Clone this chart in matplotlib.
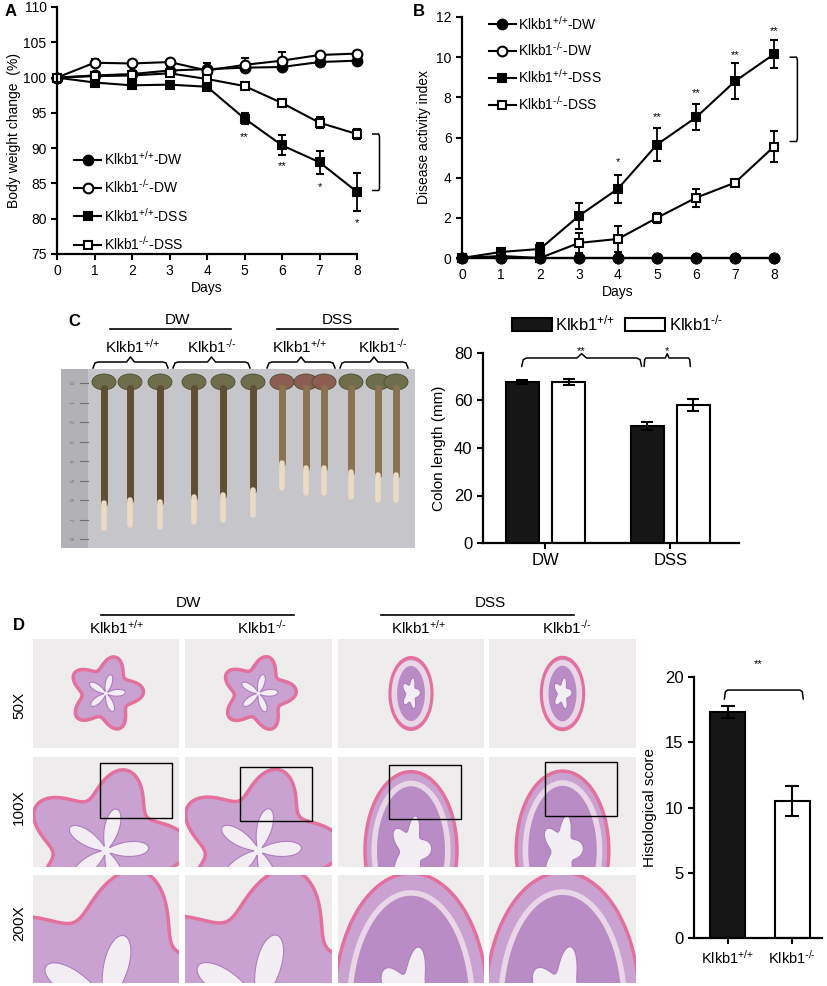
import numpy as np
import matplotlib.pyplot as plt
from matplotlib.lines import Line2D
from matplotlib.patches import Rectangle, Ellipse, Polygon

plt.rcParams['font.family'] = ['Liberation Sans', 'DejaVu Sans']
plt.rcParams['mathtext.fontset'] = 'custom'
plt.rcParams['mathtext.rm'] = 'Liberation Sans'
plt.rcParams['mathtext.default'] = 'regular'
NARROW = ['Liberation Sans Narrow', 'Liberation Sans', 'DejaVu Sans']

WT = r'Klkb1$^{\text{+/+}}$'
KO = r'Klkb1$^{\text{-/-}}$'

# ---- data ----
days = [0, 1, 2, 3, 4, 5, 6, 7, 8]
group_labels = [WT + '-DW', KO + '-DW', WT + '-DSS', KO + '-DSS']

# A: body weight change (%)
bw_wt_dw = [100, 100.3, 100.5, 101.0, 101.2, 101.4, 101.5, 102.2, 102.4]
bw_wt_dw_err = [0, 0.4, 0.5, 0.5, 0.8, 0.5, 0.4, 0.3, 0.3]
bw_ko_dw = [100, 102.1, 102.0, 102.2, 101.0, 101.8, 102.4, 103.2, 103.4]
bw_ko_dw_err = [0, 0.5, 0.3, 0.4, 0.5, 1.0, 1.2, 0.3, 0.3]
bw_wt_dss = [100, 99.3, 98.9, 99.0, 98.7, 94.2, 90.4, 88.0, 83.8]
bw_wt_dss_err = [0, 0.3, 0.3, 0.3, 0.3, 0.8, 1.4, 1.6, 2.7]
bw_ko_dss = [100, 100.2, 100.3, 100.6, 99.8, 98.8, 96.4, 93.6, 92.0]
bw_ko_dss_err = [0, 0.3, 0.3, 0.4, 0.3, 0.3, 0.4, 0.8, 0.7]
bw_stars = [(5, 91.6, '**'), (6, 87.4, '**'), (7, 84.5, '*'), (8, 79.4, '*')]

# B: disease activity index
dai_wt_dw = [0, 0, 0, 0, 0, 0, 0, 0, 0]
dai_ko_dw = [0, 0, 0, 0, 0, 0, 0, 0, 0]
dai_wt_dss = [0, 0.3, 0.45, 2.1, 3.45, 5.65, 7.0, 8.8, 10.15]
dai_wt_dss_err = [0, 0.15, 0.3, 0.65, 0.7, 0.8, 0.65, 0.9, 0.7]
dai_ko_dss = [0, 0.1, 0.0, 0.75, 0.95, 2.0, 3.0, 3.75, 5.55]
dai_ko_dss_err = [0, 0.1, 0.1, 0.5, 0.65, 0.25, 0.45, 0.1, 0.75]
dai_stars = [(4, 4.8, '*'), (5, 7.0, '**'), (6, 8.2, '**'), (7, 10.1, '**'), (8, 11.3, '**')]

# C: colon length (mm)
treatments = ['DW', 'DSS']
colon_wt = [67.7, 49.3]
colon_wt_err = [0.8, 1.7]
colon_ko = [67.7, 58.0]
colon_ko_err = [1.3, 2.5]

# D: histological score
genotypes = [WT, KO]
histo_score = [17.3, 10.5]
histo_err = [0.45, 1.15]

W, H = 827, 986
fig = plt.figure(figsize=(W / 100, H / 100), dpi=100)


def box(l, t, r, b):
    return [l / W, 1 - b / H, (r - l) / W, (b - t) / H]


def style(ax, size=10, family=None):
    for s in ['top', 'right']:
        ax.spines[s].set_visible(False)
    for s in ['left', 'bottom']:
        ax.spines[s].set_linewidth(1.6)
    ax.tick_params(width=1.5, length=4, labelsize=size)
    ax.set_facecolor('none')
    if family:
        for lab in ax.get_xticklabels() + ax.get_yticklabels():
            lab.set_family(family)


def brace(ax, x0, x1, y, h, peak=True, lw=1.1):
    xc = (x0 + x1) / 2
    dx = (x1 - x0) * 0.04
    pk = h * 0.5 if peak else 0
    xs = [x0, x0 + dx * 0.3, x0 + dx, xc - dx, xc, xc + dx, x1 - dx, x1 - dx * 0.3, x1]
    ys = [y - h, y - h * 0.2, y, y, y + pk, y, y, y - h * 0.2, y - h]
    ax.plot(xs, ys, color='black', lw=lw, clip_on=False, solid_capstyle='round')


# ---- decoration layer (photos) in pixel coordinates ----
deco = fig.add_axes([0, 0, 1, 1])
deco.set_xlim(0, W)
deco.set_ylim(H, 0)
deco.axis('off')

# panel letters
for letter, x, y in [('A', 5, 12), ('B', 413, 12), ('C', 68, 321), ('D', 13, 625)]:
    deco.text(x, y, letter, fontsize=12, fontweight='bold', va='center', ha='left')

# C photo
deco.add_patch(Rectangle((61, 369), 354, 179, fc='#c6c6ca', ec='none'))
deco.add_patch(Rectangle((61, 369), 27, 179, fc='#b2b2b6', ec='none'))
for k in range(9):
    yy = 383 + k * 19.5
    deco.plot([80, 88], [yy, yy], color='#707074', lw=0.8)
    deco.text(68, yy, str(k), fontsize=4, color='#707074', va='center', rotation=-90)
heads_x = [104, 130, 160, 194, 223, 253, 282, 306, 324, 351, 378, 396]
bottoms_y = [528, 525, 527, 522, 520, 515, 488, 493, 493, 497, 500, 500]
for i, (hx, by) in enumerate(zip(heads_x, bottoms_y)):
    dss = i >= 6
    deco.plot([hx, hx], [388, by - 25], color='#8a7150' if dss else '#5e4e34',
              lw=5, solid_capstyle='round')
    deco.plot([hx, hx], [by - 25, by], color='#eadbc4', lw=4, solid_capstyle='round')
    deco.add_patch(Ellipse((hx, 382), 24, 16, fc='#8c5e52' if (dss and i < 9) else '#6f6e4c',
                           ec='#4a4a30', lw=0.6))

# C labels and braces
deco.plot([110, 231], [329, 329], color='black', lw=1.2)
deco.plot([277, 398], [329, 329], color='black', lw=1.2)
deco.text(177, 320, 'DW', fontsize=11, ha='center', va='center', family=NARROW)
deco.text(337, 320, 'DSS', fontsize=11, ha='center', va='center', family=NARROW)
for x, lab in zip([133, 212, 300, 383], [WT, KO] * 2):
    deco.text(x, 347, lab, fontsize=11, ha='center', va='center', family=NARROW)
for x0, x1 in [(93, 168), (173, 250), (267, 335), (340, 408)]:
    xc = (x0 + x1) / 2
    deco.plot([x0, x0 + 2, x0 + 5, xc - 4, xc, xc + 4, x1 - 5, x1 - 2, x1],
              [368, 363, 362, 362, 357, 362, 362, 363, 368], color='black', lw=1.1)

# D labels
deco.plot([101, 294], [615, 615], color='black', lw=1.2)
deco.plot([381, 574], [615, 615], color='black', lw=1.2)
deco.text(188, 603, 'DW', fontsize=11, ha='center', va='center', family=NARROW)
deco.text(490, 603, 'DSS', fontsize=11, ha='center', va='center', family=NARROW)
for x, lab in zip([117, 262, 419, 567], [WT, KO] * 2):
    deco.text(x, 628, lab, fontsize=11, ha='center', va='center', family=NARROW)
for y, lab in zip([705, 807, 923], ['50X', '100X', '200X']):
    deco.text(19, y, lab, fontsize=11, ha='center', va='center', rotation=90, family=NARROW)

# D histology tiles
cols = [(33, 179), (185, 332), (338, 484), (489, 636)]
rows = [(639, 748), (757, 867), (875, 983)]
theta = np.linspace(0, 2 * np.pi, 200)
for ci, (x0, x1) in enumerate(cols):
    for ri, (y0, y1) in enumerate(rows):
        w, h = x1 - x0, y1 - y0
        cx, cy = (x0 + x1) / 2, (y0 + y1) / 2
        bg = Rectangle((x0, y0), w, h, fc='#eeecec', ec='none')
        deco.add_patch(bg)
        scale = [0.34, 0.75, 1.25][ri]
        if ci < 2:
            rx, ry = 0.62 * w * scale, 0.62 * w * scale
            lobe = 0.22
        else:
            rx, ry = 0.42 * w * scale, 0.72 * w * scale
            lobe = 0.0
        ocx, ocy = cx, cy + h * 0.35 * ri
        r_out = 1 + lobe * np.cos(5 * theta + 0.3)
        outer = np.column_stack([ocx + rx * r_out * np.cos(theta), ocy + ry * r_out * np.sin(theta)])
        p = Polygon(outer, closed=True, fc='#c9a2d2', ec='#e4709e', lw=2.5)
        deco.add_patch(p)
        p.set_clip_path(bg)
        if ci >= 2:
            # thick pale submucosa ring of the inflamed colon
            mid = np.column_stack([ocx + rx * 0.8 * np.cos(theta), ocy + ry * 0.85 * np.sin(theta)])
            m = Polygon(mid, closed=True, fc='#b98cc6', ec='#e9d6e6', lw=4)
            deco.add_patch(m)
            m.set_clip_path(bg)
        r_in = 0.35 + (0.28 if ci < 2 else 0.1) * np.cos(5 * theta + 0.3)
        inner = np.column_stack([ocx + rx * r_in * np.cos(theta), ocy + ry * r_in * np.sin(theta)])
        q = Polygon(inner, closed=True, fc='#f3eef4', ec='#b07cc0', lw=0.8)
        deco.add_patch(q)
        q.set_clip_path(bg)
# inset boxes on the 100X row
for bx0, by0, bx1, by1 in [(100, 763, 172, 818), (240, 767, 312, 821),
                           (389, 765, 461, 819), (545, 762, 617, 816)]:
    deco.add_patch(Rectangle((bx0, by0), bx1 - bx0, by1 - by0, fc='none', ec='black', lw=1.0))

# ---- A: body weight ----
axA = fig.add_axes(box(57, 7, 357, 254))
specs = [
    (bw_wt_dw, bw_wt_dw_err, 'o', 'black', 7),
    (bw_ko_dw, bw_ko_dw_err, 'o', 'white', 7),
    (bw_wt_dss, bw_wt_dss_err, 's', 'black', 6),
    (bw_ko_dss, bw_ko_dss_err, 's', 'white', 6),
]
handles = []
for vals, err, m, fc, ms in specs:
    c = axA.errorbar(days, vals, yerr=err, marker=m, mfc=fc, mec='black', mew=1.5, ms=ms,
                     color='black', lw=1.5, elinewidth=1.3, capsize=3, capthick=1.3)
    for art in c.get_children():
        art.set_clip_on(False)
    handles.append(Line2D([], [], marker=m, mfc=fc, mec='black', mew=1.5, ms=ms, color='black', lw=1.5))
for x, y, s in bw_stars:
    axA.text(x, y, s, ha='center', va='center', fontsize=8)
axA.plot([8.42, 8.58, 8.6, 8.6, 8.58, 8.42], [92, 92, 91.6, 84.3, 84, 84], color='black', lw=1.1, clip_on=False)
axA.set_xlim(0, 8)
axA.set_ylim(75, 110)
axA.set_xticks(days)
axA.set_yticks(range(75, 111, 5))
axA.set_xlabel('Days', fontsize=10, labelpad=2)
axA.set_ylabel('Body weight change  (%)', fontsize=10, labelpad=2)
style(axA)
axA.legend(handles, group_labels, loc='upper left', bbox_to_anchor=(0.035, 0.45), frameon=False,
           fontsize=10, handlelength=1.9, handletextpad=0.25, labelspacing=0.75, borderpad=0)

# ---- B: DAI ----
axB = fig.add_axes(box(462, 17, 774, 258))
specsB = [
    (dai_ko_dw, None, 'o', 'white', 7),
    (dai_wt_dss, dai_wt_dss_err, 's', 'black', 6),
    (dai_ko_dss, dai_ko_dss_err, 's', 'white', 6),
    (dai_wt_dw, None, 'o', 'black', 7),
]
for vals, err, m, fc, ms in specsB:
    c = axB.errorbar(days, vals, yerr=err, marker=m, mfc=fc, mec='black', mew=1.5, ms=ms,
                     color='black', lw=1.5, elinewidth=1.3, capsize=3, capthick=1.3)
    for art in c.get_children():
        art.set_clip_on(False)
for x, y, s in dai_stars:
    axB.text(x, y, s, ha='center', va='center', fontsize=8)
axB.plot([8.42, 8.58, 8.6, 8.6, 8.58, 8.42], [10.0, 10.0, 9.85, 5.95, 5.8, 5.8], color='black', lw=1.1, clip_on=False)
axB.set_xlim(0, 8)
axB.set_ylim(0, 12)
axB.set_xticks(days)
axB.set_yticks(range(0, 13, 2))
axB.set_xlabel('Days', fontsize=10, labelpad=2)
axB.set_ylabel('Disease activity index', fontsize=10, labelpad=4)
style(axB)
axB.legend(handles, group_labels, loc='upper left', bbox_to_anchor=(0.065, 1.04), frameon=False,
           fontsize=10, handlelength=1.9, handletextpad=0.2, labelspacing=0.65, borderpad=0)

# ---- C: colon length ----
axC = fig.add_axes(box(483, 353, 739, 543))
xc = np.arange(len(treatments))
bw = 0.265
axC.bar(xc - 0.185, colon_wt, bw, yerr=colon_wt_err, color='#161616', edgecolor='black', lw=1.5,
        error_kw=dict(capsize=4, elinewidth=1.5, capthick=1.5), label=WT)
axC.bar(xc + 0.185, colon_ko, bw, yerr=colon_ko_err, color='white', edgecolor='black', lw=1.5,
        error_kw=dict(capsize=4, elinewidth=1.5, capthick=1.5), label=KO)
brace(axC, -0.19, 0.77, 77.9, 3.6)
brace(axC, 0.79, 1.16, 77.9, 3.6)
axC.text(0.29, 80.6, '**', ha='center', va='center', fontsize=8)
axC.text(0.97, 80.6, '*', ha='center', va='center', fontsize=8)
axC.set_xlim(-0.5, 1.55)
axC.set_ylim(0, 80)
axC.set_yticks(range(0, 81, 20))
axC.set_xticks(xc)
axC.set_xticklabels(treatments)
axC.set_ylabel('Colon length (mm)', fontsize=11, labelpad=6)
style(axC, size=12, family=NARROW)
axC.legend(loc='lower left', bbox_to_anchor=(0.08, 1.06), ncol=2, frameon=False,
           handlelength=2.4, handleheight=0.9, handletextpad=0.2, columnspacing=0.6, borderpad=0,
           prop=dict(family=NARROW, size=12))

# ---- D: histological score ----
axD = fig.add_axes(box(694, 677, 822, 938))
xd = np.arange(len(genotypes))
axD.bar(xd, histo_score, 0.54, yerr=histo_err, color=['#161616', 'white'], edgecolor='black', lw=1.5,
        error_kw=dict(capsize=5, elinewidth=1.5, capthick=1.5))
brace(axD, -0.05, 1.17, 19.0, 0.7, peak=False)
axD.text(0.48, 21.0, '**', ha='center', va='center', fontsize=8)
axD.set_xlim(-0.52, 1.46)
axD.set_ylim(0, 20)
axD.set_yticks(range(0, 21, 5))
axD.set_xticks(xd)
axD.set_xticklabels(genotypes)
axD.set_ylabel('Histological score', fontsize=11, labelpad=6)
style(axD, size=12, family=NARROW)
for lab in axD.get_xticklabels():
    lab.set_fontsize(10.5)

fig.savefig('out.png', dpi=100)
